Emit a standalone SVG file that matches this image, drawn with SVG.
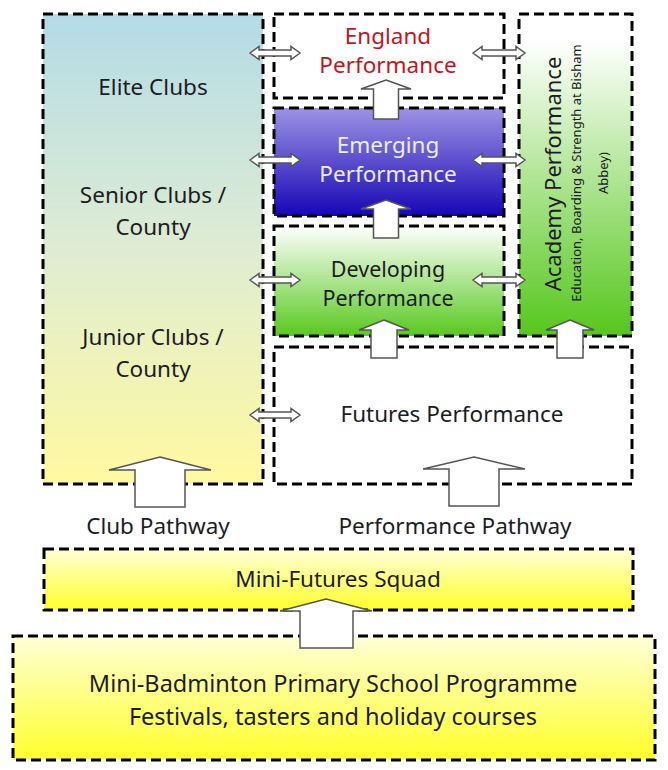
<svg xmlns="http://www.w3.org/2000/svg" width="668" height="770" viewBox="0 0 668 770">
<style>
.box{stroke:#000;stroke-width:3;stroke-dasharray:10 5;}
.t{font-family:"Noto Sans","Liberation Sans",Arial,sans-serif;font-size:22.5px;fill:#1c1c24;text-anchor:middle;}
.arr{fill:#fff;stroke:#555;stroke-width:1.5;stroke-linejoin:miter;}
</style>
<defs>
<linearGradient id="gClub" x1="0" y1="0" x2="0" y2="1">
<stop offset="0" stop-color="#b4dbe6"/>
<stop offset="0.5" stop-color="#dfecd3"/>
<stop offset="1" stop-color="#fff9a0"/>
</linearGradient>
<linearGradient id="gEmer" x1="0" y1="0" x2="0" y2="1">
<stop offset="0" stop-color="#9d93e4"/>
<stop offset="1" stop-color="#1706b6"/>
</linearGradient>
<linearGradient id="gDev" x1="0" y1="0" x2="0" y2="1">
<stop offset="0" stop-color="#ffffff"/>
<stop offset="1" stop-color="#58c91e"/>
</linearGradient>
<linearGradient id="gAcad" x1="0" y1="0" x2="0" y2="1">
<stop offset="0.08" stop-color="#ffffff"/>
<stop offset="1" stop-color="#56c71c"/>
</linearGradient>
<linearGradient id="gYel" x1="0" y1="0" x2="0" y2="1">
<stop offset="0" stop-color="#ffffd8"/>
<stop offset="1" stop-color="#ffff2a"/>
</linearGradient>
</defs>

<g id="club-box">
<rect class="box" x="43" y="14" width="220" height="470" fill="url(#gClub)"/>
<text class="t" x="153" y="95">Elite Clubs</text>
<text class="t" x="153" y="203">Senior Clubs /</text>
<text class="t" x="153" y="235">County</text>
<text class="t" x="153" y="345">Junior Clubs /</text>
<text class="t" x="153" y="377">County</text>
</g>

<g id="england">
<rect class="box" x="274" y="14" width="230" height="84" fill="#fff"/>
<text class="t" x="388" y="44" style="fill:#c8141e">England</text>
<text class="t" x="388" y="73" style="fill:#c8141e">Performance</text>
</g>

<g id="emerging">
<rect class="box" x="274" y="108" width="230" height="108" fill="url(#gEmer)"/>
<text class="t" x="388" y="153" style="fill:#ececff">Emerging</text>
<text class="t" x="388" y="182" style="fill:#ececff">Performance</text>
</g>

<g id="developing">
<rect class="box" x="274" y="226" width="230" height="110" fill="url(#gDev)"/>
<text class="t" x="388" y="277" style="font-size:21.5px">Developing</text>
<text class="t" x="388" y="306" style="font-size:21.5px">Performance</text>
</g>

<g id="academy">
<rect class="box" x="519" y="14" width="113" height="322" fill="url(#gAcad)"/>
<text class="t" transform="translate(561,174) rotate(-90)" x="0" y="0" style="font-size:22px">Academy Performance</text>
<text class="t" transform="translate(581,173) rotate(-90)" x="0" y="0" style="font-size:13px">Education, Boarding &amp; Strength at Bisham</text>
<text class="t" transform="translate(608,173) rotate(-90)" x="0" y="0" style="font-size:13px">Abbey)</text>
</g>

<g id="futures">
<rect class="box" x="274" y="347" width="358" height="137" fill="#fff"/>
<text class="t" x="452" y="422">Futures Performance</text>
</g>

<g id="pathway-labels">
<text class="t" x="158" y="534">Club Pathway</text>
<text class="t" x="455" y="534">Performance Pathway</text>
</g>

<g id="mini-futures">
<rect class="box" x="44" y="549" width="589" height="61" fill="url(#gYel)"/>
<text class="t" x="338" y="587">Mini-Futures Squad</text>
</g>

<g id="mini-badminton">
<rect class="box" x="13" y="636" width="642" height="124" fill="url(#gYel)"/>
<text class="t" x="333" y="692" style="font-size:23.5px">Mini-Badminton Primary School Programme</text>
<text class="t" x="333" y="725" style="font-size:23.5px">Festivals, tasters and holiday courses</text>
</g>

<g id="connectors">
<path class="arr" d="M386,80 L411,89 L398.5,89 L398.5,119 L373.5,119 L373.5,89 L361,89 Z"/>
<path class="arr" d="M386,200 L411,209 L398.5,209 L398.5,238 L373.5,238 L373.5,209 L361,209 Z"/>
<path class="arr" d="M384,320 L409,330 L397,330 L397,358 L371,358 L371,330 L359,330 Z"/>
<path class="arr" d="M570,320 L594,330 L583,330 L583,358 L557,358 L557,330 L546,330 Z"/>
<path class="arr" d="M160,457 L211,470 L185,470 L185,507 L135,507 L135,470 L109,470 Z"/>
<path class="arr" d="M474,457 L525,469 L499,469 L499,506 L449,506 L449,469 L423,469 Z"/>
<path class="arr" d="M326,599 L372,611 L353,611 L353,648 L300,648 L300,611 L280,611 Z"/>
<path class="arr" d="M250,53 L259,46.5 L259,50 L291,50 L291,46.5 L300,53 L291,59.5 L291,56 L259,56 L259,59.5 Z"/>
<path class="arr" d="M250,160 L259,153.5 L259,157 L291,157 L291,153.5 L300,160 L291,166.5 L291,163 L259,163 L259,166.5 Z"/>
<path class="arr" d="M250,280 L259,273.5 L259,277 L291,277 L291,273.5 L300,280 L291,286.5 L291,283 L259,283 L259,286.5 Z"/>
<path class="arr" d="M250,415 L259,408.5 L259,412 L291,412 L291,408.5 L300,415 L291,421.5 L291,418 L259,418 L259,421.5 Z"/>
<path class="arr" d="M473,53 L482,46.5 L482,50 L516,50 L516,46.5 L525,53 L516,59.5 L516,56 L482,56 L482,59.5 Z"/>
<path class="arr" d="M473,160 L482,153.5 L482,157 L516,157 L516,153.5 L525,160 L516,166.5 L516,163 L482,163 L482,166.5 Z"/>
<path class="arr" d="M473,280 L482,273.5 L482,277 L516,277 L516,273.5 L525,280 L516,286.5 L516,283 L482,283 L482,286.5 Z"/>
</g>
</svg>
